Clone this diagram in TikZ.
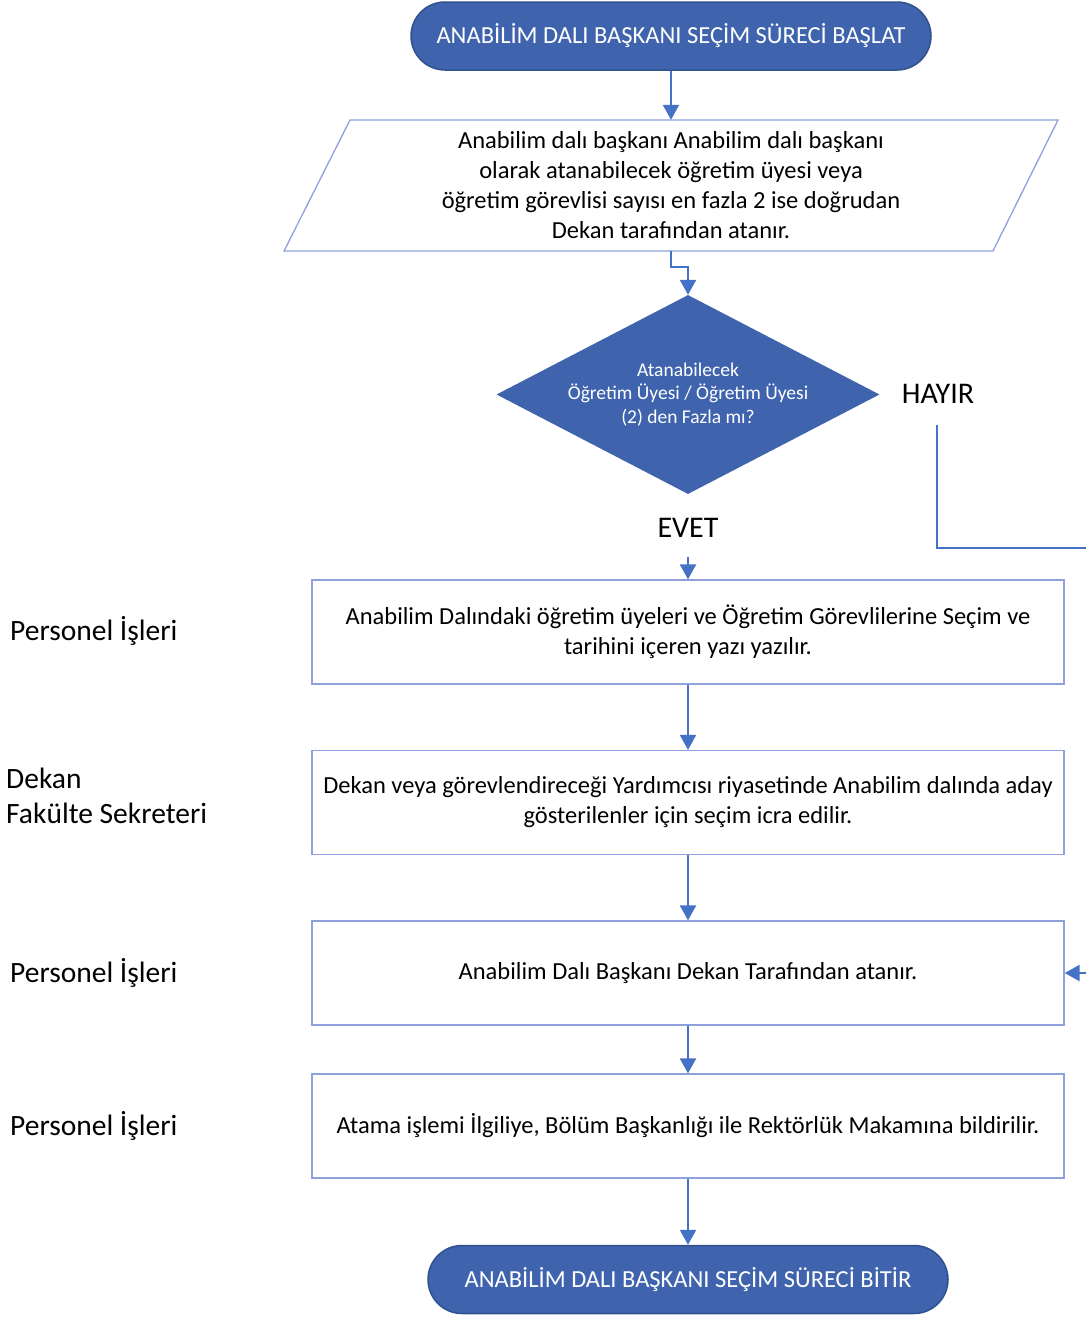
\documentclass[tikz,border=0pt]{standalone}
\usepackage{fontspec}
\setmainfont{Carlito}
\usetikzlibrary{shapes.geometric,arrows.meta}
\definecolor{termfill}{HTML}{3F64AD}
\definecolor{termline}{HTML}{2F528F}
\definecolor{arrcol}{HTML}{4472C4}
\definecolor{boxline}{HTML}{8FA0DC}
\tikzset{
  term/.style={draw=termline,line width=1.5pt,fill=termfill,text=white,rounded corners=34pt,
    minimum width=520pt,minimum height=68pt,inner sep=0pt,font=\fontsize{24.5}{28}\selectfont},
  procbox/.style={draw=boxline,line width=1.3pt,minimum width=752pt,minimum height=104pt,
    inner sep=0pt,align=center,font=\fontsize{24.5}{30}\selectfont},
  decis/.style={diamond,shape aspect=1.925,fill=termfill,text=white,minimum width=383pt,minimum height=199pt,
    inner sep=0pt,align=center,font=\fontsize{19.5}{23.5}\selectfont},
  arr/.style={draw=arrcol,line width=2.4pt,-{Triangle[width=16pt,length=15pt]}},
  lane/.style={anchor=west,align=left,inner sep=0pt,font=\fontsize{29.5}{35}\selectfont},
  lbl/.style={inner sep=0pt,font=\fontsize{30}{34}\selectfont}
}
\begin{document}
\begin{tikzpicture}[x=1pt,y=-1pt]
\useasboundingbox (0,0) rectangle (1086,1317);
\clip (0,0) rectangle (1086,1317);
% start
\node[term] (start) at (671,36) {ANABİLİM DALI BAŞKANI SEÇİM SÜRECİ BAŞLAT};
% parallelogram
\draw[boxline,line width=1.3pt] (350,120) -- (1058,120) -- (993,251) -- (284,251) -- cycle;
\node[align=center,minimum height=131pt,inner sep=0pt,font=\fontsize{24.5}{30}\selectfont] (para) at (671,185.5)
  {Anabilim dalı başkanı Anabilim dalı başkanı\\olarak atanabilecek öğretim üyesi veya\\öğretim görevlisi sayısı en fazla 2 ise doğrudan\\Dekan tarafından atanır.};
% decision
\node[decis] (dec) at (688,394.5) {Atanabilecek\\Öğretim Üyesi / Öğretim Üyesi\\(2) den Fazla mı?};
\node[lbl] (hayir) at (938,394) {HAYIR};
\node[lbl] (evet) at (688,528) {EVET};
\coordinate (hy) at (937,425);
\coordinate (ev) at (688,557);
% boxes
\node[procbox] (b1) at (688,632) {Anabilim Dalındaki öğretim üyeleri ve Öğretim Görevlilerine Seçim ve\\tarihini içeren yazı yazılır.};
\node[procbox] (b2) at (688,802.5) {Dekan veya görevlendireceği Yardımcısı riyasetinde Anabilim dalında aday\\gösterilenler için seçim icra edilir.};
\node[procbox] (b3) at (688,973) {Anabilim Dalı Başkanı Dekan Tarafından atanır.};
\node[procbox] (b4) at (688,1126) {Atama işlemi İlgiliye, Bölüm Başkanlığı ile Rektörlük Makamına bildirilir.};
% end
\node[term] (end) at (688,1279.5) {ANABİLİM DALI BAŞKANI SEÇİM SÜRECİ BİTİR};
% lanes
\node[lane] (l1) at (10,631) {Personel İşleri};
\node[lane] (l2) at (6,795.5) {Dekan\\Fakülte Sekreteri};
\node[lane] (l3) at (10,973) {Personel İşleri};
\node[lane] (l4) at (10,1126) {Personel İşleri};
% connectors
\draw[arr] (start.south) -- (para.north);
\draw[arr] (para.south) -- ++(0,16) -| (dec.north);
\draw[arr] (ev) -- (b1.north);
\draw[arr] (b1.south) -- (b2.north);
\draw[arr] (b2.south) -- (b3.north);
\draw[arr] (b3.south) -- (b4.north);
\draw[arr] (b4.south) -- (end.north);
\draw[arr] (hy) -- (937,548) -- (1120,548) -- (1120,973) -- (b3.east);
\end{tikzpicture}
\end{document}
